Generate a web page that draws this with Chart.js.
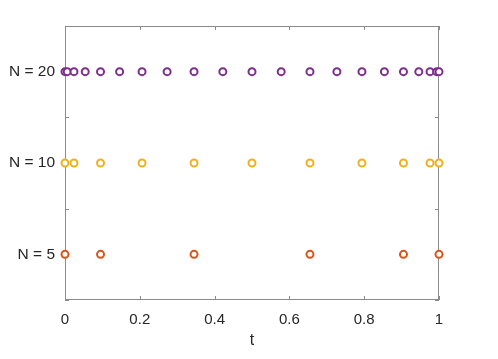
<!DOCTYPE html>
<html>
<head>
<meta charset="utf-8">
<script src="https://cdn.jsdelivr.net/npm/chart.js@4"></script>
<style>
  html, body { margin: 0; padding: 0; background: #fff; }
  #wrap { width: 498px; height: 359px; }
</style>
</head>
<body>
<div id="wrap"><canvas id="c" width="498" height="359"></canvas></div>
<script>
// node positions
const tN5 = [0, 0.095, 0.345, 0.655, 0.905, 1]
const tN10 = [0, 0.024, 0.095, 0.206, 0.345, 0.5, 0.655, 0.794, 0.905, 0.976, 1]
const tN20 = [0, 0.006, 0.024, 0.054, 0.095, 0.146, 0.206, 0.273, 0.345, 0.422, 0.5,
   0.578, 0.655, 0.727, 0.794, 0.854, 0.905, 0.946, 0.976, 0.994, 1]

const rowLabels = ['N = 5', 'N = 10', 'N = 20']
const rowLevels = [1, 2, 3]
const rowColors = ['#D95319', '#EDB120', '#7E2F8E']
const xTickLabels = ['0', '0.2', '0.4', '0.6', '0.8', '1']

const series = [tN5, tN10, tN20]

const axisColor = '#8a8a8a'
const textColor = '#262626'

// box + inward ticks on all four sides, MATLAB style
const boxTicks = {
   id: 'boxTicks',
   beforeDatasetsDraw(chart) {
      const { ctx, chartArea: a, scales } = chart
      const len = 4
      ctx.save()
      ctx.strokeStyle = axisColor
      ctx.lineWidth = 1
      ctx.strokeRect(a.left + 0.5, a.top + 0.5, a.right - a.left - 1, a.bottom - a.top - 1)
      ctx.beginPath()
      scales.x.ticks.forEach(t => {
         const px = Math.round(scales.x.getPixelForValue(t.value)) + 0.5
         ctx.moveTo(px, a.bottom); ctx.lineTo(px, a.bottom - len)
         ctx.moveTo(px, a.top); ctx.lineTo(px, a.top + len)
      })
      scales.y.ticks.forEach(t => {
         const py = Math.round(scales.y.getPixelForValue(t.value)) + 0.5
         ctx.moveTo(a.left, py); ctx.lineTo(a.left + len, py)
         ctx.moveTo(a.right, py); ctx.lineTo(a.right - len, py)
      })
      ctx.stroke()
      ctx.restore()
   }
}

const datasets = series.map((vals, i) => ({
   label: rowLabels[i],
   data: vals.map(v => ({ x: v, y: rowLevels[i] })),
   showLine: false,
   clip: false,
   pointStyle: 'circle',
   pointRadius: 3.5,
   pointBorderWidth: 2,
   pointBackgroundColor: '#ffffff',
   pointBorderColor: rowColors[i],
   borderColor: rowColors[i],
   backgroundColor: '#ffffff',
}))

new Chart(document.getElementById('c'), {
   type: 'scatter',
   data: { datasets },
   plugins: [boxTicks],
   options: {
      responsive: false,
      animation: false,
      layout: { padding: { top: 26, right: 59, left: 0, bottom: 0 } },
      plugins: { legend: { display: false }, tooltip: { enabled: false } },
      scales: {
         x: {
            type: 'linear',
            min: 0,
            max: 1,
            afterFit(s) { s.height = 59 },
            border: { display: false },
            grid: { display: false, drawTicks: false },
            ticks: {
               stepSize: 0.2,
               padding: 11,
               color: textColor,
               font: { family: 'Liberation Sans', size: 15 },
               maxRotation: 0,
               callback: (v) => {
                  const k = Math.round(v * 5)
                  return Math.abs(v * 5 - k) < 1e-6 ? xTickLabels[k] : ''
               }
            },
            title: {
               display: true,
               text: 't',
               color: textColor,
               font: { family: 'Liberation Sans', size: 16 },
               padding: { top: 0, bottom: 9 }
            }
         },
         y: {
            type: 'linear',
            min: 0.5,
            max: 3.5,
            afterFit(s) { s.width = 65 },
            border: { display: false },
            grid: { display: false, drawTicks: false },
            ticks: {
               stepSize: 0.5,
               padding: 10,
               color: textColor,
               font: { family: 'Liberation Sans', size: 15.5 },
               callback: (v) => {
                  const idx = rowLevels.indexOf(v)
                  return idx >= 0 ? rowLabels[idx] : ''
               }
            }
         }
      }
   }
})
</script>
</body>
</html>
